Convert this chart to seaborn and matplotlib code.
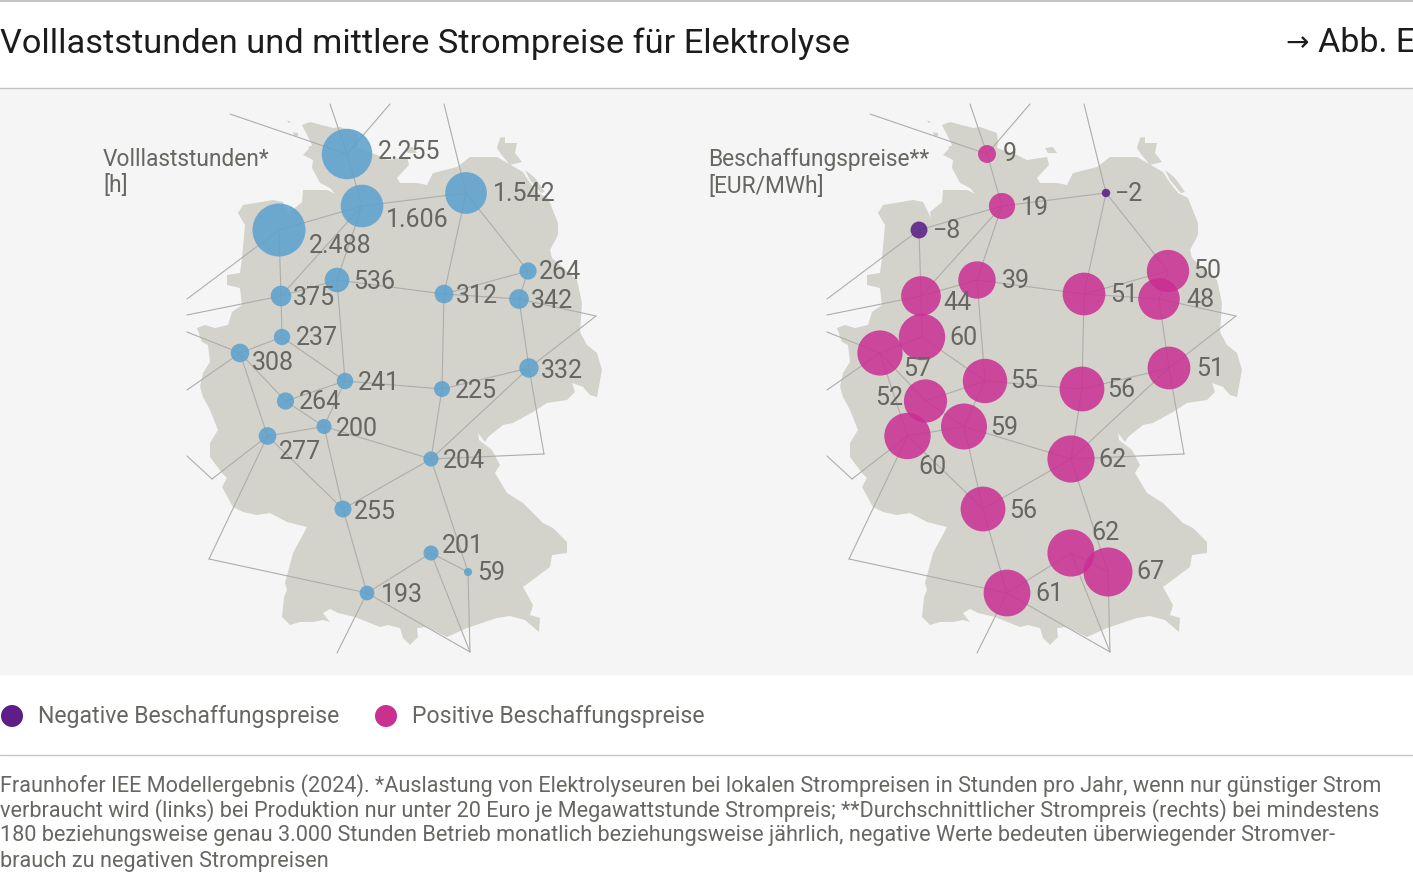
import matplotlib.pyplot as plt
import pandas as pd
import seaborn as sns

W, H = 1413, 885

# node grid, in map pixels of the left panel
node_names = ['A', 'B', 'C', 'D', 'E', 'F', 'G', 'H', 'I', 'J', 'K', 'L', 'M', 'N', 'O', 'P', 'Q', 'R', 'S', 'T', 'U', 'V']
node_x = [347, 362, 466, 279, 337, 281, 444, 528, 519, 282, 240, 529, 345, 442, 285.5, 324, 267.5, 431, 343, 431, 468, 367]
node_y = [154, 206, 193, 230, 280, 296, 294, 271, 299, 337, 353, 368, 381, 389, 401, 426.5, 436, 459, 509, 553, 572, 593]

hours = [2255, 1606, 1542, 2488, 536, 375, 312, 264, 342, 237, 308, 332, 241, 225, 264, 200, 277, 204, 255, 201, 59, 193]
prices = [9, 19, -2, -8, 39, 44, 51, 50, 48, 60, 57, 51, 55, 56, 52, 59, 60, 62, 56, 62, 67, 61]

hour_labels = ['2.255', '1.606', '1.542', '2.488', '536', '375', '312', '264', '342', '237', '308', '332', '241', '225', '264', '200', '277', '204', '255', '201', '59', '193']
price_labels = ['9', '19', '−2', '−8', '39', '44', '51', '50', '48', '60', '57', '51', '55', '56', '52', '59', '60', '62', '56', '62', '67', '61']

# points outside the grid where the lines end
stub_points = {
    'a1': (330, 104), 'a2': (390, 104), 'a3': (230, 114), 'c1': (444, 104),
    'd1': (187, 299), 'f1': (187, 315), 'i1': (596, 316), 'k1': (187, 332),
    'k2': (187, 390), 'l1': (544, 454), 'q1': (212, 479), 'q2': (187, 456),
    'q3': (209, 559), 't1': (470, 652), 'v1': (337, 653),
}
edges = ['A-B', 'A-a1', 'A-a2', 'A-a3', 'C-c1', 'B-C', 'B-D', 'B-E', 'B-F', 'D-F', 'D-d1',
         'F-E', 'F-f1', 'F-J', 'E-G', 'E-M', 'C-G', 'C-H', 'G-H', 'G-I', 'H-I', 'I-i1',
         'i1-L', 'I-L', 'G-N', 'J-K', 'J-M', 'K-k1', 'K-k2', 'K-Q', 'K-O', 'O-M', 'O-P',
         'M-P', 'M-N', 'N-L', 'N-R', 'L-R', 'L-l1', 'l1-R', 'P-Q', 'P-S', 'P-R', 'Q-S',
         'Q-q1', 'q1-q2', 'Q-q3', 'q3-V', 'S-R', 'S-V', 'R-U', 'T-U', 'T-V', 'T-t1',
         'U-t1', 'V-t1', 'V-v1']

germany = [
    (302, 125), (310, 122), (333, 128), (340, 127), (357, 133), (358, 143), (357, 148), (377, 155),
    (387, 160), (407, 157), (409, 165), (397, 178), (400, 183), (417, 183), (427, 185), (433, 173),
    (457, 167), (470, 157), (497, 157), (523, 172), (528, 180), (538, 193), (548, 198), (558, 223),
    (558, 235), (550, 250), (552, 258), (577, 280), (582, 303), (580, 332), (587, 345), (597, 353),
    (602, 370), (597, 397), (590, 395), (583, 387), (572, 383), (575, 392), (567, 400), (547, 403),
    (533, 412), (513, 423), (503, 425), (488, 437), (485, 442), (478, 433), (479, 440), (492, 450),
    (500, 465), (495, 473), (507, 493), (523, 503), (543, 523), (553, 528), (567, 542), (567, 553),
    (552, 555), (550, 567), (523, 587), (533, 605), (530, 615), (540, 618), (539, 632), (525, 620),
    (510, 616), (497, 618), (467, 628), (447, 637), (427, 627), (417, 628), (418, 637), (410, 645),
    (403, 638), (400, 628), (388, 625), (380, 627), (355, 617), (338, 613), (330, 609), (323, 613),
    (330, 622), (323, 620), (313, 622), (300, 622), (290, 625), (282, 617), (284, 597), (287, 590),
    (285, 583), (293, 553), (307, 527), (287, 522), (270, 513), (257, 515), (243, 512), (233, 507),
    (222, 487), (227, 478), (222, 473), (210, 457), (210, 443), (218, 430), (210, 410), (203, 397),
    (200, 387), (203, 373), (210, 362), (208, 345), (202, 342), (197, 328), (205, 325), (215, 328),
    (228, 325), (232, 312), (242, 305), (240, 288), (227, 285), (227, 275), (240, 273), (242, 258),
    (245, 225), (238, 213), (243, 205), (273, 200), (283, 202), (291, 218), (290, 212), (302, 202),
    (303, 190), (327, 190), (338, 195), (350, 207), (343, 203), (330, 188), (320, 183), (312, 168),
    (313, 160), (303, 155), (312, 145),
]
# islands off the coast
ruegen = [(500, 138), (505, 137), (505, 143), (517, 143), (515, 153), (522, 162), (510, 165), (500, 153), (497, 148)]
fehmarn = [(405, 148), (413, 147), (417, 153), (408, 153)]
usedom = [(525, 170), (535, 178), (545, 192), (541, 193), (530, 180)]
sylt = [(287, 120), (291, 122), (289, 123)]
foehr = [(293, 132), (298, 133), (298, 136), (294, 136)]
pellworm = [(308, 146), (312, 147), (310, 149)]
islands = [ruegen, fehmarn, usedom, sylt, foehr, pellworm]

TEXT = '#666662'
LINE = '#adadaa'
LAND = '#d3d3cb'

# where each value label starts, left panel then right panel
hour_label_x = [378, 386, 493, 309, 353, 293, 456, 539, 531, 296, 252, 541, 358, 455, 299, 336, 279, 443, 354, 442, 477, 381]
hour_label_y = [150, 218, 192, 244, 280, 296, 294, 270, 299, 336, 361, 369, 381, 389, 400, 427, 450, 459, 510, 544, 571, 593]
price_label_x = [1003, 1021, 1115, 933, 1002, 943, 1110, 1193, 1186, 949, 903, 1196, 1010, 1107, 875, 990, 918, 1098, 1009, 1091, 1136, 1035]
price_label_y = [152, 206, 192, 229, 279, 301, 293, 269, 298, 336, 367, 367, 379, 388, 396, 426, 465, 458, 509, 531, 570, 592]

sns.set_theme(style='white')
plt.rcParams['font.family'] = ['Roboto', 'DejaVu Sans']

fig = plt.figure(figsize=(W / 100, H / 100), dpi=100)
ax = fig.add_axes([0, 0, 1, 1])
ax.set_xlim(0, W)
ax.set_ylim(H, 0)
ax.axis('off')


def px_size(px):
    return px * 0.72


def put_text(x, y, s, size=25, weight='normal', **kw):
    ax.text(x, y + 1.5, s, fontsize=px_size(size), color=kw.pop('color', TEXT), weight=weight, va='center', ha='left', **kw)


def draw_map(values, shift, max_val, max_radius):
    points = {n: (x, y) for n, x, y in zip(node_names, node_x, node_y)}
    points.update(stub_points)
    for shape in [germany] + islands:
        ax.fill([p[0] + shift for p in shape], [p[1] for p in shape], color=LAND, lw=0, zorder=1)
    for edge in edges:
        a, b = edge.split('-')
        ax.plot([points[a][0] + shift, points[b][0] + shift], [points[a][1], points[b][1]],
                color=LINE, lw=0.8, zorder=2, solid_capstyle='round')
    return pd.DataFrame({
        'x': [x + shift for x in node_x],
        'y': node_y,
        'size': [abs(v) for v in values],
        'kind': ['neg' if v < 0 else 'pos' for v in values],
    }), (0, max_val), (0, px_size(max_radius * 2) ** 2)


ax.add_patch(plt.Rectangle((0, 88), W, 587, color='#f5f5f5', lw=0, zorder=0))
ax.plot([0, W], [0.5, 0.5], color='#b9b9b9', lw=1.2)
ax.plot([0, W], [88, 88], color='#c4c4c4', lw=1)
ax.plot([0, W], [755, 755], color='#c4c4c4', lw=1)

df, norm, sizes = draw_map(hours, 0, 2488, 26.5)
sns.scatterplot(data=df, x='x', y='y', size='size', size_norm=norm, sizes=sizes, color='#5ea1ce',
                alpha=0.88, linewidth=0, legend=False, ax=ax, zorder=3)

df, norm, sizes = draw_map(prices, 640, 67, 24.5)
sns.scatterplot(data=df, x='x', y='y', size='size', size_norm=norm, sizes=sizes, hue='kind',
                palette={'pos': '#c92f93', 'neg': '#571a85'}, alpha=0.85, linewidth=0,
                legend=False, ax=ax, zorder=3)

ax.set_xlabel('')
ax.set_ylabel('')

for x, y, s in zip(hour_label_x, hour_label_y, hour_labels):
    put_text(x, y + 0.5, s, zorder=4)
for x, y, s in zip(price_label_x, price_label_y, price_labels):
    put_text(x, y + 0.5, s, zorder=4)

put_text(103, 158, 'Volllaststunden*', size=22.8)
put_text(103, 184, '[h]', size=22.8)
put_text(708, 158, 'Beschaffungspreise**', size=22.8)
put_text(708, 185, '[EUR/MWh]', size=22.8)

put_text(0, 42, 'Volllaststunden und mittlere Strompreise für Elektrolyse', size=34.4, color='#1c1c1c')
put_text(1285, 42, '→', size=28, color='#1c1c1c')
put_text(1318, 42, 'Abb. E', size=34, color='#1c1c1c')

ax.scatter([12, 386], [716, 716], s=px_size(22) ** 2, c=['#5f1d87', '#c9308f'], linewidths=0)
put_text(38, 715.5, 'Negative Beschaffungspreise', size=23)
put_text(412, 715.5, 'Positive Beschaffungspreise', size=23)

footnote = [
    'Fraunhofer IEE Modellergebnis (2024). *Auslastung von Elektrolyseuren bei lokalen Strompreisen in Stunden pro Jahr, wenn nur günstiger Strom',
    'verbraucht wird (links) bei Produktion nur unter 20 Euro je Megawattstunde Strompreis; **Durchschnittlicher Strompreis (rechts) bei mindestens',
    '180 beziehungsweise genau 3.000 Stunden Betrieb monatlich beziehungsweise jährlich, negative Werte bedeuten überwiegender Stromver-',
    'brauch zu negativen Strompreisen',
]
for y, line in zip([784.5, 809.5, 834.5, 859.5], footnote):
    put_text(0, y, line, size=21.7)

fig.savefig('out.png', dpi=100)
